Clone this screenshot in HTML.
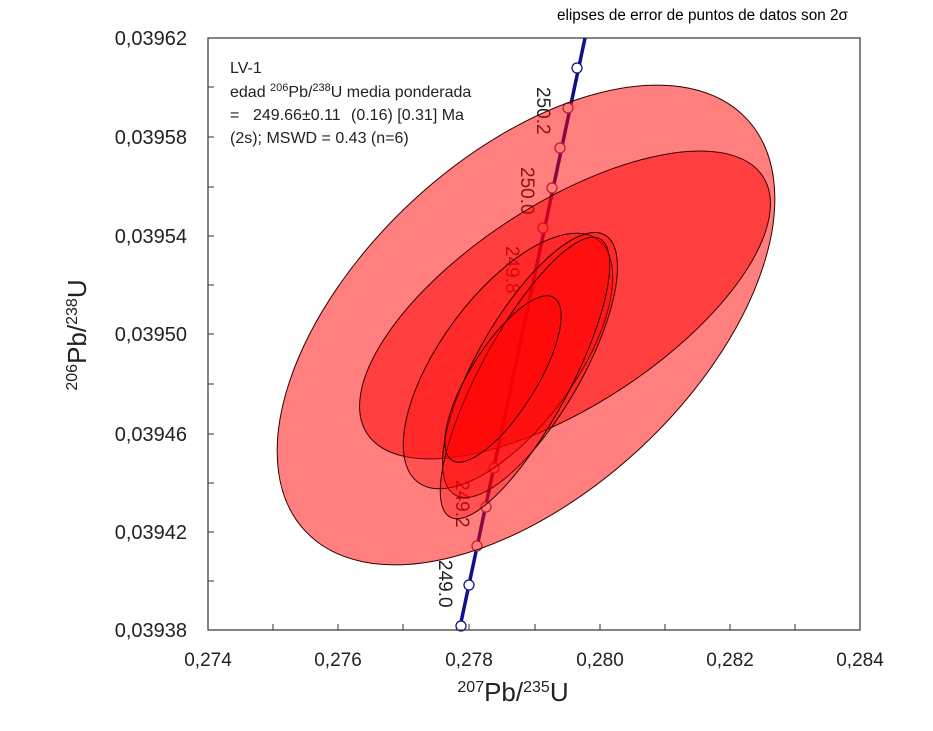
<!DOCTYPE html><html><head><style>body{margin:0;background:#fff}</style></head><body>
<svg width="933" height="726" xmlns="http://www.w3.org/2000/svg" font-family="Liberation Sans, sans-serif">
<rect width="933" height="726" fill="#fff"/>
<text x="557" y="20" font-size="15.3">elipses de error de puntos de datos son 2σ</text>
<line x1="460" y1="627" x2="585" y2="38" stroke="#10108a" stroke-width="3.5"/>
<g font-size="19" fill="#222">
<text transform="translate(537,87) rotate(90)">250.2</text>
<text transform="translate(521,167) rotate(90)">250.0</text>
<text transform="translate(506,246) rotate(90)">249.8</text>
<text transform="translate(456,480) rotate(90)">249.2</text>
<text transform="translate(439,560) rotate(90)">249.0</text>
</g>
<g fill="#fff" stroke="#a03050" stroke-width="1.3">
<circle cx="461" cy="626" r="5" stroke="#10108a"/><circle cx="469" cy="585" r="5" stroke="#10108a"/>
<circle cx="477" cy="546" r="5"/><circle cx="486" cy="507" r="5"/><circle cx="494" cy="468" r="5"/>
<circle cx="543" cy="228" r="5"/><circle cx="552" cy="188" r="5"/><circle cx="560" cy="148" r="5"/><circle cx="568" cy="108" r="5"/><circle cx="577" cy="68" r="5" stroke="#10108a"/>
</g>
<g stroke="#300" stroke-width="1">
<ellipse cx="526" cy="325" rx="302" ry="168" transform="rotate(-43 526 325)" fill="rgba(255,0,0,0.5)"/>
<ellipse cx="565" cy="305" rx="236" ry="101" transform="rotate(-33 565 305)" fill="rgba(255,0,0,0.5)"/>
<ellipse cx="508" cy="361" rx="151" ry="67" transform="rotate(-53.5 508 361)" fill="rgba(255,0,0,0.35)"/>
<ellipse cx="530" cy="365" rx="150" ry="52" transform="rotate(-60 530 365)" fill="rgba(255,0,0,0.35)"/>
<ellipse cx="525" cy="378" rx="158" ry="45" transform="rotate(-61.7 525 378)" fill="rgba(255,0,0,0.35)"/>
<ellipse cx="503" cy="379" rx="96" ry="33" transform="rotate(-57.9 503 379)" fill="rgba(255,0,0,0.35)"/>
</g>
<rect x="208" y="38" width="652" height="592" fill="none" stroke="#333" stroke-width="1.2"/>
<g stroke="#333">
<line x1="273" y1="630" x2="273" y2="624"/><line x1="338" y1="630" x2="338" y2="624"/><line x1="403" y1="630" x2="403" y2="624"/><line x1="469" y1="630" x2="469" y2="624"/><line x1="535" y1="630" x2="535" y2="624"/><line x1="600" y1="630" x2="600" y2="624"/><line x1="665" y1="630" x2="665" y2="624"/><line x1="730" y1="630" x2="730" y2="624"/><line x1="795" y1="630" x2="795" y2="624"/>
<line x1="208" y1="87" x2="214" y2="87"/><line x1="208" y1="137" x2="214" y2="137"/><line x1="208" y1="187" x2="214" y2="187"/><line x1="208" y1="236" x2="214" y2="236"/><line x1="208" y1="285" x2="214" y2="285"/><line x1="208" y1="334" x2="214" y2="334"/><line x1="208" y1="384" x2="214" y2="384"/><line x1="208" y1="434" x2="214" y2="434"/><line x1="208" y1="483" x2="214" y2="483"/><line x1="208" y1="532" x2="214" y2="532"/><line x1="208" y1="581" x2="214" y2="581"/>
</g>
<g font-size="20" fill="#222" text-anchor="end">
<text x="187" y="45">0,03962</text><text x="187" y="144">0,03958</text><text x="187" y="243">0,03954</text><text x="187" y="341">0,03950</text><text x="187" y="441">0,03946</text><text x="187" y="539">0,03942</text><text x="187" y="637">0,03938</text>
</g>
<g font-size="19" fill="#222" text-anchor="middle">
<text x="208" y="666">0,274</text><text x="338" y="666">0,276</text><text x="469" y="666">0,278</text><text x="600" y="666">0,280</text><text x="730" y="666">0,282</text><text x="860" y="666">0,284</text>
</g>
<text x="513" y="701" font-size="26" text-anchor="middle" fill="#222"><tspan font-size="16" dy="-9">207</tspan><tspan dy="9">Pb/</tspan><tspan font-size="16" dy="-9">235</tspan><tspan dy="9">U</tspan></text>
<text transform="translate(86,335) rotate(-90)" font-size="26" text-anchor="middle" fill="#222"><tspan font-size="16" dy="-9">206</tspan><tspan dy="9">Pb/</tspan><tspan font-size="16" dy="-9">238</tspan><tspan dy="9">U</tspan></text>
<g font-size="16" fill="#222">
<text x="230" y="73">LV-1</text>
<text x="230" y="97">edad <tspan font-size="11" dy="-6">206</tspan><tspan dy="6">Pb/</tspan><tspan font-size="11" dy="-6">238</tspan><tspan dy="6">U media ponderada</tspan></text>
<text x="230" y="120">=</text><text x="253" y="120">249.66±0.11</text><text x="351" y="120">(0.16) [0.31] Ma</text>
<text x="230" y="143">(2s); MSWD = 0.43 (n=6)</text>
</g>
</svg>
</body></html>
